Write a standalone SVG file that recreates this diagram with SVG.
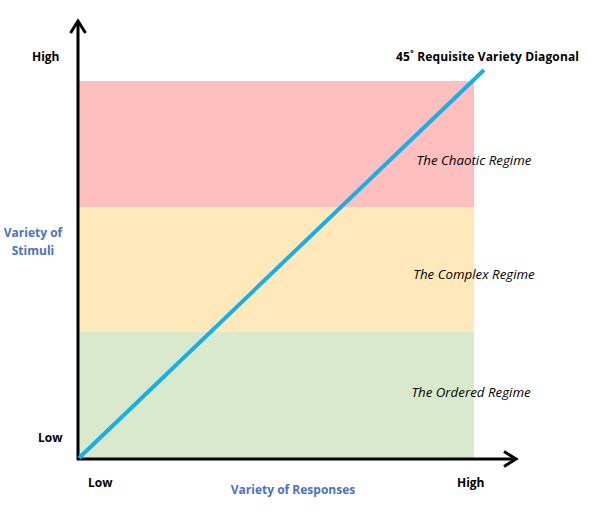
<svg xmlns="http://www.w3.org/2000/svg" width="592" height="520" viewBox="0 0 592 520">
<style>
.lbl{font-family:"Open Sans","Liberation Sans",sans-serif;font-weight:bold;font-size:12px;fill:#000}
.axis{font-family:"Open Sans","Liberation Sans",sans-serif;font-weight:bold;font-size:12px;fill:#4A72C0}
.reg{font-family:"Open Sans","Noto Sans",sans-serif;font-style:italic;font-size:13.3px;fill:#000}
.ax{stroke:#000;stroke-width:3;fill:none}
</style>
<defs>
<marker id="chev" viewBox="0 0 18 18" refX="15" refY="9" markerWidth="18" markerHeight="18" markerUnits="userSpaceOnUse" orient="auto">
<path d="M3,1.5 L15,9 L3,16.5" fill="none" stroke="#000" stroke-width="3"/>
</marker>
</defs>
<g id="bands">
<rect id="chaotic" x="78" y="81" width="396" height="126" fill="#FFBFBF"/>
<rect id="complex" x="78" y="207" width="396" height="125" fill="#FFE9BA"/>
<rect id="ordered" x="78" y="332" width="396" height="127" fill="#D9EACC"/>
</g>
<g id="connectors">
<line class="ax" x1="78" y1="460" x2="78" y2="21" marker-end="url(#chev)"/>
<line class="ax" x1="77" y1="459" x2="516" y2="459" marker-end="url(#chev)"/>
<line x1="79" y1="458" x2="484" y2="70" stroke="#18AEE8" stroke-width="4"/>
</g>
<g id="labels">
<text class="lbl" x="32" y="61">High</text>
<text class="lbl" x="38" y="442">Low</text>
<text class="lbl" x="88" y="487">Low</text>
<text class="lbl" x="457" y="487">High</text>
<text class="lbl" x="396" y="61" textLength="183">45˚ Requisite Variety Diagonal</text>
<text class="axis" x="33" y="237" text-anchor="middle">Variety of</text>
<text class="axis" x="33" y="255" text-anchor="middle">Stimuli</text>
<text class="axis" x="293" y="494" text-anchor="middle">Variety of Responses</text>
<text class="reg" x="474" y="165" text-anchor="middle">The Chaotic Regime</text>
<text class="reg" x="474" y="279" text-anchor="middle">The Complex Regime</text>
<text class="reg" x="471" y="397" text-anchor="middle">The Ordered Regime</text>
</g>
</svg>
